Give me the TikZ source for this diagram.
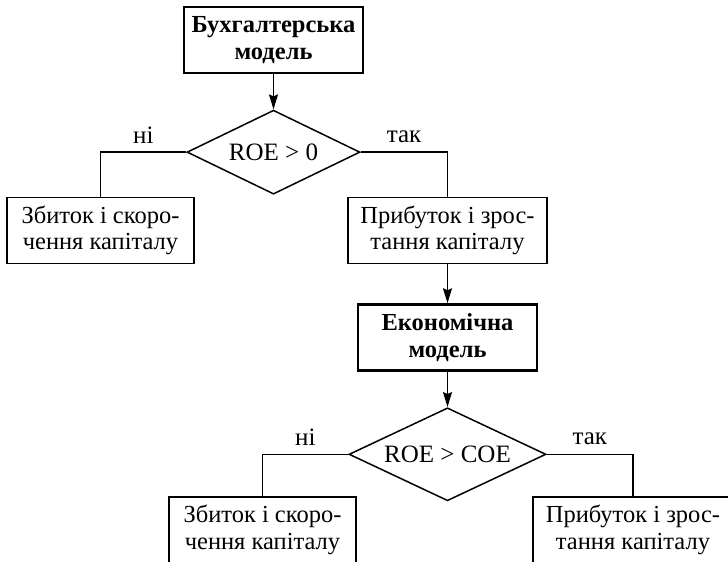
\documentclass[tikz,border=0pt]{standalone}
\usepackage{fontspec}
\setmainfont{Liberation Serif}
\usetikzlibrary{shapes.geometric, arrows.meta, positioning}

\begin{document}
\begin{tikzpicture}[
  x=1pt, y=-1pt,
  node distance=35pt,
  block/.style={rectangle, draw, line width=2.8pt, minimum width=179pt,
    minimum height=66pt, font=\fontsize{24.5}{26.5}\selectfont\bfseries,
    align=center, inner sep=0pt},
  outcome/.style={rectangle, draw, line width=1.5pt, minimum height=66pt,
    font=\fontsize{24.5}{26.5}\selectfont, align=center, inner sep=0pt},
  decision/.style={diamond, draw, line width=1.5pt, inner sep=0pt,
    shape aspect=2, font=\fontsize{25}{26.5}\selectfont},
  arr/.style={-{Stealth[length=15pt,width=9pt,inset=2pt]}, line width=1.5pt},
  link/.style={line width=1.5pt},
  answer/.style={font=\fontsize{25}{26.5}\selectfont, above=5pt}
]
  \useasboundingbox (0,0) rectangle (728,562);

  \node[block] (buh) at (273.5,40) {Бухгалтерська\\модель};
  \node[decision, minimum width=173pt, minimum height=84pt, below=35pt of buh] (roe) {ROE > 0};
  \node[outcome, minimum width=187pt] (loss1) at (100.5,230.5) {Збиток і скоро-\\чення капіталу};
  \node[outcome, minimum width=199pt] (gain1) at (447.5,230.5) {Прибуток і зрос-\\тання капіталу};

  \node[block, below=39pt of gain1] (econ) {Економічна\\модель};
  \node[decision, minimum width=197pt, minimum height=93pt, below=35pt of econ] (roecoe) {ROE > COE};
  \node[outcome, minimum width=187pt] (loss2) at (262.5,530) {Збиток і скоро-\\чення капіталу};
  \node[outcome, minimum width=200pt] (gain2) at (633,530) {Прибуток і зрос-\\тання капіталу};

  \draw[arr] (buh) -- (roe);
  \draw[link] (roe.west) -| node[answer, pos=0.25]{ні} (loss1);
  \draw[link] (roe.east) -| node[answer, pos=0.25]{так} (gain1);

  %% second stage
  \draw[arr] (gain1) -- (econ);
  \draw[arr] (econ) -- (roecoe);
  \draw[link] (roecoe.west) -| node[answer, pos=0.25]{ні} (loss2);
  \draw[link] (roecoe.east) -| node[answer, pos=0.25]{так} (gain2);
\end{tikzpicture}
\end{document}
